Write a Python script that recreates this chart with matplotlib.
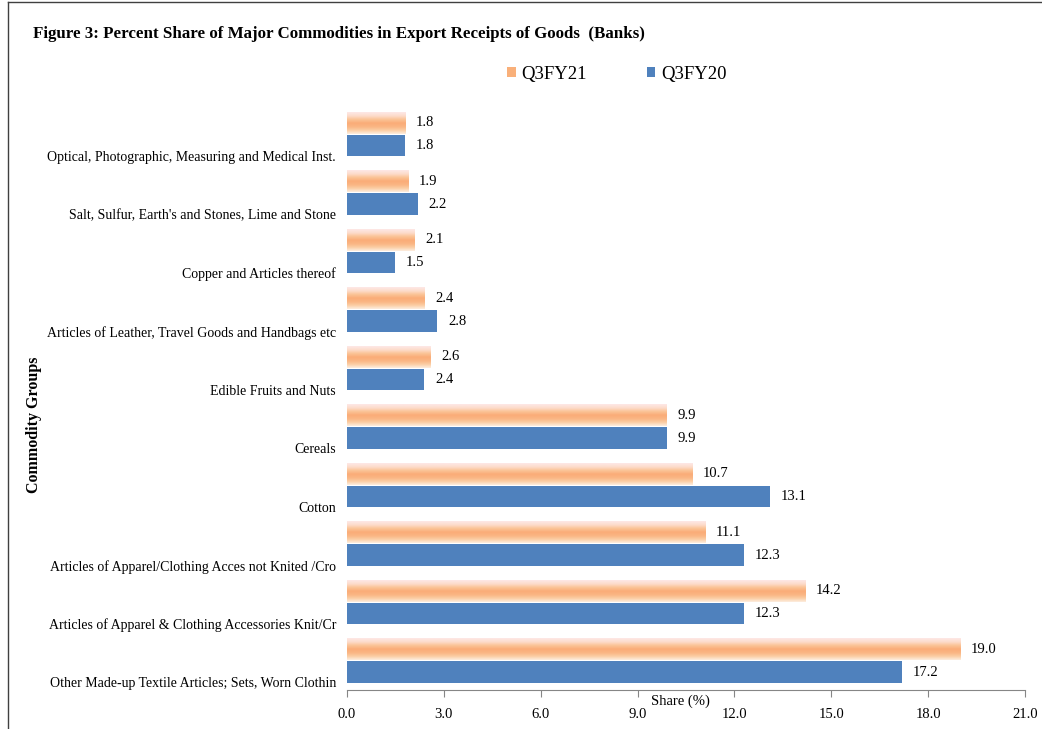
import numpy as np
import matplotlib.pyplot as plt
from matplotlib.colors import LinearSegmentedColormap
from matplotlib.patches import Patch
from matplotlib.lines import Line2D

plt.rcParams['font.family'] = ['Liberation Serif', 'DejaVu Serif']

# data, bottom to top as drawn
categories = [
    "Other Made-up Textile Articles; Sets, Worn Clothin",
    "Articles of Apparel & Clothing Accessories Knit/Cr",
    "Articles of Apparel/Clothing Acces not Knited /Cro",
    "Cotton",
    "Cereals",
    "Edible Fruits and Nuts",
    "Articles of Leather, Travel Goods and Handbags etc",
    "Copper and Articles thereof",
    "Salt, Sulfur, Earth's and Stones, Lime and Stone",
    "Optical, Photographic, Measuring and Medical Inst.",
]
q3fy21 = [19.0, 14.2, 11.1, 10.7, 9.9, 2.6, 2.4, 2.1, 1.9, 1.8]
q3fy20 = [17.2, 12.3, 12.3, 13.1, 9.9, 2.4, 2.8, 1.5, 2.2, 1.8]
xticks = [0, 3, 6, 9, 12, 15, 18, 21]

blue = '#4F81BD'
orange_grad = LinearSegmentedColormap.from_list(
    'og', ['#FDE8E6', '#FDDCCB', '#FBC497', '#FAAC78', '#FAB583', '#FBCDA3', '#FDEDDE'])

fig = plt.figure(figsize=(10.42, 7.29), dpi=100)
ax = fig.add_axes([347 / 1042, 1 - 690 / 729, (1025 - 347) / 1042, (690 - 105) / 729])

y = np.arange(len(categories))
h = 0.37
off = 0.195

ax.barh(y - off, q3fy20, height=h, color=blue, zorder=2)
grad = np.linspace(0, 1, 64).reshape(-1, 1)
for yi, v in zip(y, q3fy21):
    ax.imshow(grad, cmap=orange_grad, aspect='auto', origin='upper',
              extent=(0, v, yi + off - h / 2, yi + off + h / 2), zorder=2)

for yi, v in zip(y, q3fy21):
    ax.text(v + 0.33, yi + off, f'{v:.1f}', va='center', ha='left', fontsize=10.5)
for yi, v in zip(y, q3fy20):
    ax.text(v + 0.33, yi - off, f'{v:.1f}', va='center', ha='left', fontsize=10.5)

ax.set_xlim(0, 21)
ax.set_ylim(-0.5, len(categories) - 0.5)
ax.set_xticks(xticks)
ax.set_xticklabels([f'{t:.1f}' for t in xticks], fontsize=10.5)
ax.set_yticks(y - 0.37)
ax.set_yticklabels(categories, fontsize=10)
ax.tick_params(axis='y', length=0, pad=8)
ax.tick_params(axis='x', length=5, color='#868686', pad=8)
for s in ['top', 'right', 'left']:
    ax.spines[s].set_visible(False)
ax.spines['bottom'].set_color('#868686')

fig.text(680 / 1042, 1 - 701 / 729, 'Share (%)', ha='center', va='center', fontsize=10.5)
fig.text(34 / 1042, 1 - 425 / 729, 'Commodity Groups', rotation=90, ha='center',
         va='center', fontsize=11.5, fontweight='bold')
fig.text(33 / 1042, 1 - 34 / 729, 'Figure 3: Percent Share of Major Commodities in Export Receipts of Goods  (Banks)',
         ha='left', va='center', fontsize=12.2, fontweight='bold')

handles = [Patch(facecolor='#F9B07A'), Patch(facecolor=blue)]
fig.legend(handles, ['Q3FY21', 'Q3FY20'], loc='center', bbox_to_anchor=(617 / 1042, 1 - 74 / 729),
           ncol=2, frameon=False, fontsize=13.5, handlelength=0.45, handleheight=0.45,
           handletextpad=0.3, columnspacing=3.2)

# outer frame (left and top visible)
fig.add_artist(Line2D([8 / 1042, 8 / 1042], [0, 1 - 2 / 729], color='#404040', lw=1))
fig.add_artist(Line2D([8 / 1042, 1], [1 - 2 / 729, 1 - 2 / 729], color='#404040', lw=1))

fig.savefig('out.png', dpi=100)
